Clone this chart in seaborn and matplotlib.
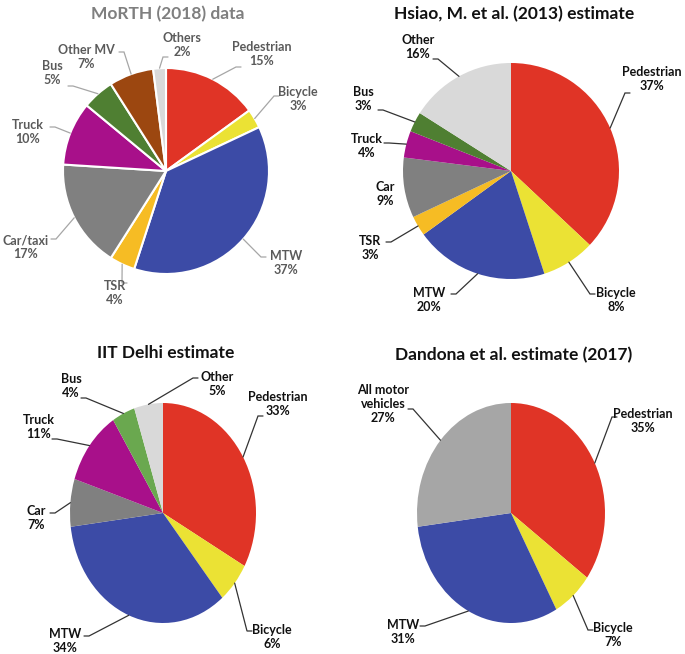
import numpy as np
import matplotlib
matplotlib.use("Agg")
import matplotlib.pyplot as plt
import seaborn as sns

sns.set_theme(style="white")
plt.rcParams['font.family'] = ['Lato', 'DejaVu Sans']

# ---------------- data ----------------
morth_labels = ["Pedestrian", "Bicycle", "MTW", "TSR", "Car/taxi", "Truck", "Bus", "Other MV", "Others"]
morth_values = [15, 3, 37, 4, 17, 10, 5, 7, 2]

hsiao_labels = ["Pedestrian", "Bicycle", "MTW", "TSR", "Car", "Truck", "Bus", "Other"]
hsiao_values = [37, 8, 20, 3, 9, 4, 3, 16]

iit_labels = ["Pedestrian", "Bicycle", "MTW", "Car", "Truck", "Bus", "Other"]
iit_values = [33, 6, 34, 7, 11, 4, 5]

dandona_labels = ["Pedestrian", "Bicycle", "MTW", "All motor\nvehicles"]
dandona_values = [35, 7, 31, 27]

titles = ["MoRTH (2018) data", "Hsiao, M. et al. (2013) estimate",
          "IIT Delhi estimate", "Dandona et al. estimate (2017)"]

# ---------------- styles ----------------
C = {"Pedestrian": "#e03426", "Bicycle": "#ebe234", "MTW": "#3c4ba6", "TSR": "#f6bc24",
     "Car": "#808080", "Truck": "#a8108a", "Bus": "#4f7f32", "OtherMV": "#9c4710",
     "Other": "#d9d9d9", "AMV": "#a6a6a6", "BusL": "#6aa84f"}
morth_colors = [C["Pedestrian"], C["Bicycle"], C["MTW"], C["TSR"], C["Car"], C["Truck"],
                C["Bus"], C["OtherMV"], C["Other"]]
hsiao_colors = [C["Pedestrian"], C["Bicycle"], C["MTW"], C["TSR"], C["Car"], C["Truck"],
                C["Bus"], C["Other"]]
iit_colors = [C["Pedestrian"], C["Bicycle"], C["MTW"], C["Car"], C["Truck"], C["BusL"], C["Other"]]
dandona_colors = [C["Pedestrian"], C["Bicycle"], C["MTW"], C["AMV"]]

W, H = 685, 654
fig = plt.figure(figsize=(W / 100, H / 100), dpi=100)

# pie geometry in pixels: centre x, centre y (from top), radius x, radius y
geoms = [(166, 171, 103, 103), (511, 171, 108, 108), (163, 513, 93, 110), (511, 513, 94, 110)]
title_pos = [(168, 14), (514, 14), (166, 353), (514, 355)]
title_colors = ["#7f7f7f", "#111111", "#111111", "#111111"]
text_colors = ["#5a5a5a", "#111111", "#111111", "#111111"]
line_colors = ["#a6a6a6", "#333333", "#333333", "#333333"]
edge = [("white", 1.5), (None, 0), (None, 0), (None, 0)]

# label layout: text centre (px), line start (px) or None
layouts = [
    [((262, 54), (241, 67)), ((298, 99), (279, 96)), ((286, 263), (266, 257)),
     ((115, 293), (127, 283)), ((26, 247), (51, 239)), ((28, 132), (50, 127)),
     ((52, 73), (68, 86)), ((86, 57), (119, 52)), ((182, 45), (168, 57))],
    [((652, 79), (630, 93)), ((616, 300), (595, 294)), ((429, 300), (451, 294)),
     ((370, 248), (386, 242)), ((385, 194), None), ((367, 146), (384, 143)),
     ((363, 99), (378, 110)), ((418, 47), (433, 59))],
    [((278, 404), (263, 416)), ((272, 637), (252, 631)), ((65, 641), (84, 636)),
     ((36, 518), (50, 513)), ((39, 427), (52, 439)), ((71, 386), (81, 398)),
     ((217, 384), (198, 378))],
    [((643, 421), (617, 417)), ((613, 635), (593, 630)), ((403, 632), (420, 626)),
     ((383, 404), (408, 409))],
]

datasets = [(morth_labels, morth_values, morth_colors),
            (hsiao_labels, hsiao_values, hsiao_colors),
            (iit_labels, iit_values, iit_colors),
            (dandona_labels, dandona_values, dandona_colors)]

for i, (labels, values, colors) in enumerate(datasets):
    cx, cy, rx, ry = geoms[i]
    ax = fig.add_axes([0, 0, 1, 1])
    ax.patch.set_alpha(0)
    ec, lw = edge[i]
    wedgeprops = {"linewidth": lw, "edgecolor": ec if ec else "none"}
    wedges, _ = ax.pie(values, colors=colors, startangle=90, counterclock=False,
                       radius=1, wedgeprops=wedgeprops)
    ax.set_aspect('auto')
    ax.set_xlim((0 - cx) / rx, (W - cx) / rx)
    ax.set_ylim((cy - H) / ry, cy / ry)
    ax.axis('off')

    def p2d(px, py):
        return (px - cx) / rx, (cy - py) / ry

    tx, ty = p2d(*title_pos[i])
    ax.text(tx, ty, titles[i], ha='center', va='center', fontsize=12.5,
            fontweight='bold', color=title_colors[i])

    total = sum(values)
    for w, lab, val, (tpos, lpos) in zip(wedges, labels, values, layouts[i]):
        x, y = p2d(*tpos)
        ax.text(x, y, f"{lab}\n{round(100 * val / total)}%", ha='center', va='center',
                fontsize=9, fontweight='bold', color=text_colors[i], linespacing=1.15)
        if lpos is not None:
            ang = np.deg2rad((w.theta1 + w.theta2) / 2)
            axx, ayy = np.cos(ang), np.sin(ang)
            sx, sy = p2d(*lpos)
            sgn = 1 if axx > sx else -1
            kx = sx + sgn * 5 / rx
            ax.plot([sx, kx, axx], [sy, sy, ayy], color=line_colors[i], lw=0.9,
                    clip_on=False, solid_joinstyle='miter')

fig.savefig("out.png", dpi=100)
